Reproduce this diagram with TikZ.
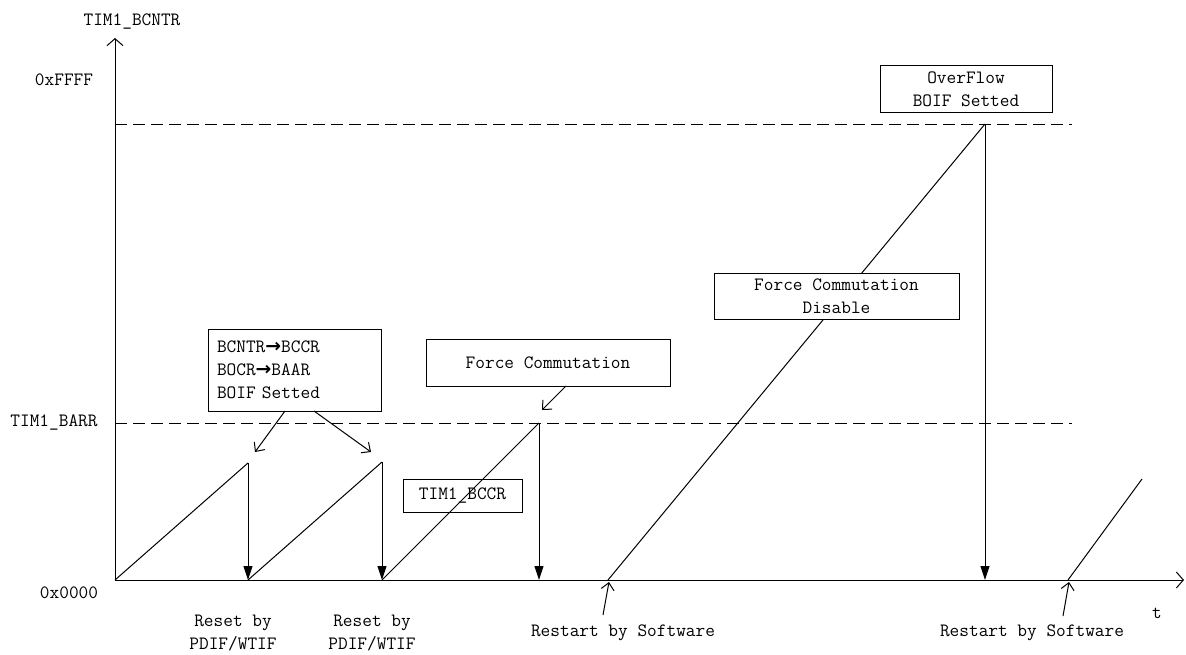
\documentclass[tikz,border=0pt]{standalone}
\usepackage{fontspec}
\newfontfamily\djv{DejaVu Sans}
\usetikzlibrary{arrows.meta}
\begin{document}
\begin{tikzpicture}[x=1pt,y=-1pt,line width=1pt,
  lbl/.style={font=\fontsize{18.8}{23}\selectfont\ttfamily,inner sep=0pt,align=center},
  box/.style={draw,lbl},
  openarrow/.style={-{Straight Barb[length=7pt,width=13pt]}},
  axisarrow/.style={-{Straight Barb[length=7pt,width=16pt]}},
  fillarrow/.style={-{Triangle[length=14pt,width=9pt]}},
  dashline/.style={dash pattern=on 12pt off 6pt,line width=0.9pt}]
\useasboundingbox (0,0) rectangle (1186,655);

% key coordinates
\coordinate (O) at (115,580);
\coordinate (ytop) at (115,38);
\coordinate (xend) at (1184,580);
\coordinate (p1) at (248,463);
\coordinate (z1) at (248,580);
\coordinate (p2) at (382,462);
\coordinate (z2) at (382,580);
\coordinate (p3) at (539,423);
\coordinate (z3) at (539,580);
\coordinate (s4) at (608,580);
\coordinate (p4) at (985,124);
\coordinate (z4) at (985,580);
\coordinate (s5) at (1068,580);
\coordinate (e5) at (1142,479);
\coordinate (dFstart) at (115,124);
\coordinate (dFend) at (1072,124);
\coordinate (dBstart) at (115,423);
\coordinate (dBend) at (1072,423);

% dashed levels
\draw[dashline] (dFstart) -- (dFend);
\draw[dashline] (dBstart) -- (dBend);

% axes
\draw[axisarrow] (O) -- (ytop);
\draw[axisarrow] (O) -- (xend);

% axis labels
\node[lbl] (ylabel) at (132,22) {TIM1\_BCNTR};
\node[lbl] (lffff) at (64,80) {0xFFFF};
\node[lbl] (lbarr) at (54,423) {TIM1\_BARR};
\node[lbl] (l0000) at (69,593) {0x0000};
\node[lbl] (lt) at (1157,613) {t};

% counter waveform
\draw (O) -- (p1);
\draw[fillarrow] (p1) -- (z1);
\draw (z1) -- (p2);
\draw[fillarrow] (p2) -- (z2);
\draw (z2) -- (p3);
\draw[fillarrow] (p3) -- (z3);
\draw (s4) -- (p4);
\draw[fillarrow] (p4) -- (z4);
\draw (s5) -- (e5);

% boxes
\node[box,minimum width=173pt,minimum height=82pt,text width=155pt,align=left] (capbox) at (294.5,370)
  {BCNTR{\djv\bfseries →}BCCR\\BOCR{\djv\bfseries →}BAAR\\BOIF Setted};
\node[box,minimum width=244pt,minimum height=47pt] (fcbox) at (548,362.5) {Force Commutation};
\node[box,minimum width=119pt,minimum height=33pt] (bccr) at (462.5,495.5) {TIM1\_BCCR};
\node[box,fill=white,minimum width=245pt,minimum height=46pt] (fcdbox) at (836.5,296) {Force Commutation\\Disable};
\node[box,minimum width=172pt,minimum height=47pt] (ovbox) at (966,89.5) {OverFlow\\BOIF Setted};

% callout arrows
\coordinate (c1s) at (285,411);
\coordinate (c1e) at (255,452);
\coordinate (c2s) at (314,411);
\coordinate (c2e) at (371,452);
\coordinate (c3s) at (566,386);
\coordinate (c3e) at (542,410);
\draw[openarrow] (c1s) -- (c1e);
\draw[openarrow] (c2s) -- (c2e);
\draw[openarrow] (c3s) -- (c3e);

% restart arrows
\coordinate (r1s) at (603,615);
\coordinate (r1e) at (609,582);
\coordinate (r2s) at (1063,616);
\coordinate (r2e) at (1069,582);
\draw[openarrow] (r1s) -- (r1e);
\draw[openarrow] (r2s) -- (r2e);

% bottom labels
\node[lbl] (reset1) at (233,633) {Reset by\\PDIF/WTIF};
\node[lbl] (reset2) at (372,633) {Reset by\\PDIF/WTIF};
\node[lbl] (restart1) at (623,633) {Restart by Software};
\node[lbl] (restart2) at (1032,633) {Restart by Software};
\end{tikzpicture}
\end{document}
